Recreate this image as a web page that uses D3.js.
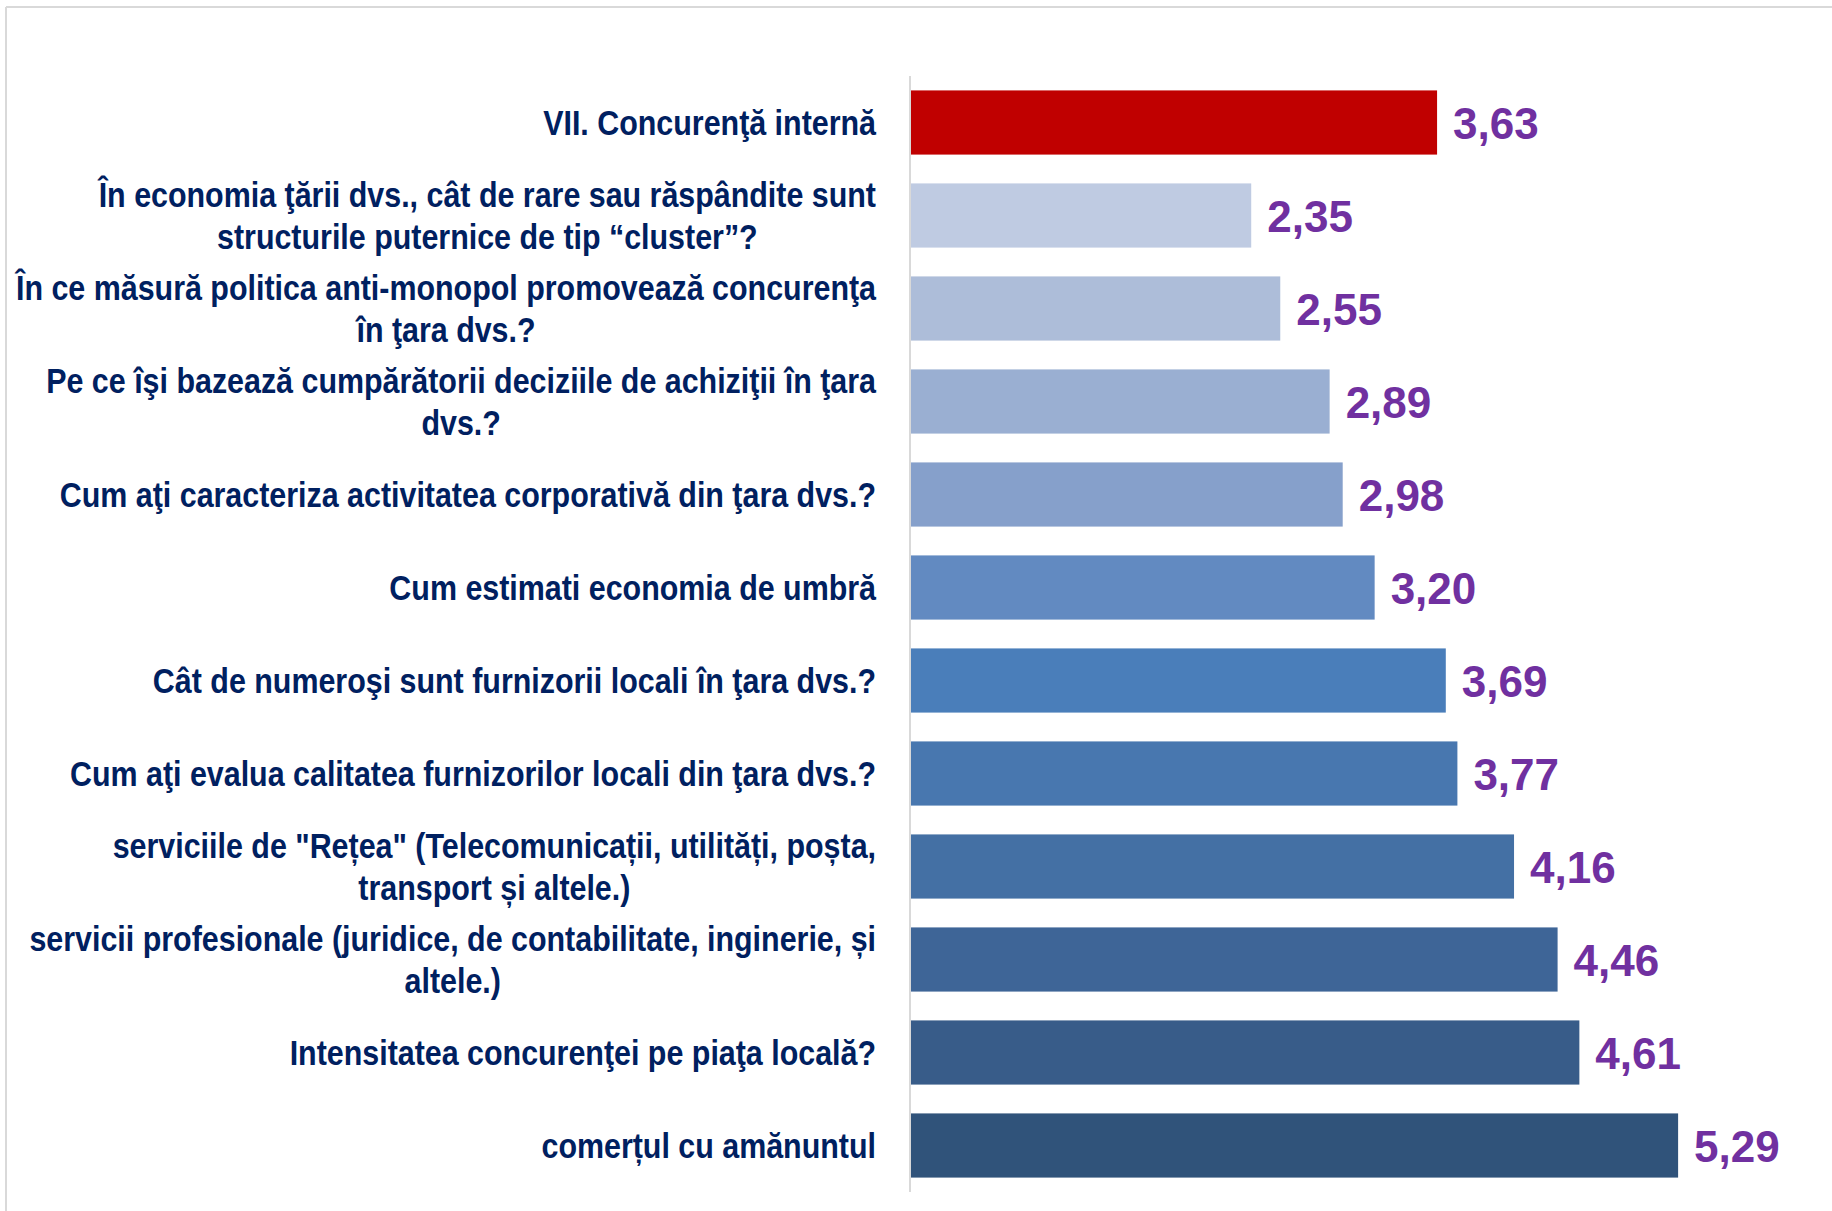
<!DOCTYPE html>
<html>
<head>
<meta charset="utf-8">
<script src="https://cdn.jsdelivr.net/npm/d3@7"></script>
<style>
    html, body { margin: 0; padding: 0; background: #fff; }
    svg { display: block; }
    .cat-label { font-family: "Liberation Sans Narrow", "Arial Narrow", "Liberation Sans", sans-serif; font-weight: bold; fill: #002060; }
    .val-label { font-family: "Liberation Sans", Arial, sans-serif; font-weight: bold; fill: #7030A0; }
</style>
</head>
<body>
<svg id="chart"></svg>
<script>
// categories, top to bottom (each entry = lines of the label)
var categories = [
    ['VII. Concurenţă internă'],
    ['În economia ţării dvs., cât de rare sau răspândite sunt', 'structurile puternice de tip “cluster”?'],
    ['În ce măsură politica anti-monopol promovează concurenţa', 'în ţara dvs.?'],
    ['Pe ce îşi bazează cumpărătorii deciziile de achiziţii în ţara', 'dvs.?'],
    ['Cum aţi caracteriza activitatea corporativă din ţara dvs.?'],
    ['Cum estimati economia de umbră'],
    ['Cât de numeroşi sunt furnizorii locali în ţara dvs.?'],
    ['Cum aţi evalua calitatea furnizorilor locali din ţara dvs.?'],
    ['serviciile de "Rețea" (Telecomunicații, utilități, poșta,', 'transport și altele.)'],
    ['servicii profesionale (juridice, de contabilitate, inginerie, și', 'altele.)'],
    ['Intensitatea concurenţei pe piaţa locală?'],
    ['comerțul cu amănuntul']
];
var values = [3.63, 2.35, 2.55, 2.89, 2.98, 3.20, 3.69, 3.77, 4.16, 4.46, 4.61, 5.29];
var valueLabels = ['3,63', '2,35', '2,55', '2,89', '2,98', '3,20', '3,69', '3,77', '4,16', '4,46', '4,61', '5,29'];
var barColors = ['#C00000', '#BFCBE2', '#ADBDD9', '#9AAFD2', '#86A0CB', '#628AC1',
                 '#4A7EBA', '#4877AF', '#4470A4', '#3E6597', '#385C89', '#30537A'];

var width = 1832, height = 1211;
var axisX = 910, plotTop = 76, plotBottom = 1192, labelRight = 876;
var labelSqueeze = 0.845; // condensed look of the original labels

var svg = d3.select('#chart').attr('width', width).attr('height', height);

// light frame round the slide
svg.append('line').attr('x1', 6).attr('x2', width).attr('y1', 7).attr('y2', 7)
    .attr('stroke', '#d9d9d9').attr('stroke-width', 2);
svg.append('line').attr('x1', 6).attr('x2', 6).attr('y1', 7).attr('y2', height)
    .attr('stroke', '#d9d9d9').attr('stroke-width', 2);

var idx = d3.range(values.length);

var x = d3.scaleLinear().domain([0, 6]).range([axisX, axisX + 6 * 145.2]);
var y = d3.scaleBand().domain(idx).range([plotTop, plotBottom]).paddingInner(0.31).paddingOuter(0.155);

svg.selectAll('rect.bar')
    .data(idx)
    .enter().append('rect')
    .attr('class', 'bar')
    .attr('x', x(0))
    .attr('y', function(i) { return y(i); })
    .attr('width', function(i) { return x(values[i]) - x(0); })
    .attr('height', y.bandwidth())
    .attr('fill', function(i) { return barColors[i]; });

// vertical axis line
svg.append('line')
    .attr('x1', axisX).attr('x2', axisX)
    .attr('y1', plotTop).attr('y2', plotBottom)
    .attr('stroke', '#d9d9d9').attr('stroke-width', 2);

svg.selectAll('text.val-label')
    .data(idx)
    .enter().append('text')
    .attr('class', 'val-label')
    .attr('x', function(i) { return x(values[i]) + 16; })
    .attr('y', function(i) { return y(i) + y.bandwidth() / 2; })
    .attr('dy', '0.37em')
    .style('font-size', '44px')
    .text(function(i) { return valueLabels[i]; });

// category labels: block right-aligned, lines centred within the block
var lineGap = 42;
idx.forEach(function(i) {
    var lines = categories[i],
        cy = y(i) + y.bandwidth() / 2,
        g = svg.append('g')
            .attr('transform', 'translate(' + labelRight + ',0) scale(' + labelSqueeze + ',1)');

    var texts = g.selectAll('text')
        .data(lines)
        .enter().append('text')
        .attr('class', 'cat-label')
        .style('font-size', '36px')
        .attr('y', function(d, k) { return cy + (k - (lines.length - 1) / 2) * lineGap; })
        .attr('dy', '0.36em')
        .text(function(d) { return d; });

    var maxW = d3.max(texts.nodes(), function(n) { return n.getComputedTextLength(); });
    texts.attr('text-anchor', 'middle').attr('x', -maxW / 2);
});
</script>
</body>
</html>
